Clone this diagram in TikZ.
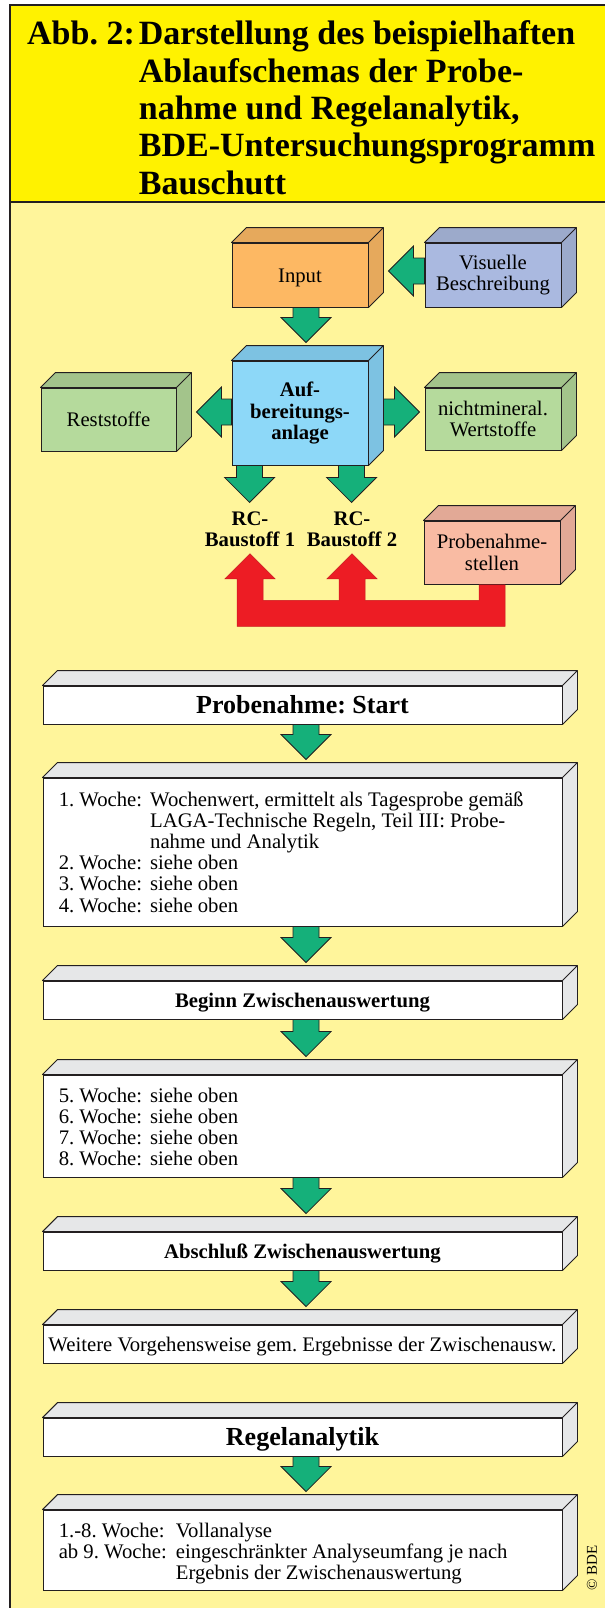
\documentclass[tikz,border=0pt]{standalone}
\usepackage{fontspec}
\setmainfont{Liberation Serif}
\usetikzlibrary{calc}
\definecolor{framecol}{HTML}{231F20}
\definecolor{titlebg}{HTML}{FFF200}
\definecolor{bodybg}{HTML}{FFF59B}
\definecolor{inputfront}{HTML}{FDB863}
\definecolor{inputside}{HTML}{E6A95C}
\definecolor{visfront}{HTML}{AAB9E0}
\definecolor{visside}{HTML}{9CAACB}
\definecolor{plantfront}{HTML}{8DD8F8}
\definecolor{plantside}{HTML}{7DC2E2}
\definecolor{greenfront}{HTML}{B5DA9C}
\definecolor{greenside}{HTML}{A3C48B}
\definecolor{probefront}{HTML}{F9BBA3}
\definecolor{probeside}{HTML}{E2A996}
\definecolor{stepside}{HTML}{E6E7E8}
\definecolor{arrowgreen}{HTML}{15B07A}
\definecolor{arrowred}{HTML}{ED1C24}

\newcommand{\boxfont}{\fontsize{20.7}{21.2}\selectfont}
\newcommand{\bigfont}{\fontsize{26}{28}\selectfont\bfseries}
\newcommand{\titlefont}{\fontsize{34}{37.3}\selectfont\bfseries}
\frenchspacing

% block arrow from #1 to the tip #2
\newcommand{\blockflow}[2]{%
  \coordinate (fa) at #1;
  \coordinate (fb) at #2;
  \coordinate (fh) at ($(fb)!25pt!(fa)$);
  \draw[flowfill] ($(fa)!13pt!90:(fb)$) -- ($(fh)!13pt!90:(fb)$) -- ($(fh)!25pt!90:(fb)$)
    -- (fb) -- ($(fh)!25pt!-90:(fb)$) -- ($(fh)!13pt!-90:(fb)$) -- ($(fa)!13pt!-90:(fb)$) -- cycle;}

\begin{document}
\begin{tikzpicture}[
    x=1pt, y=-1pt,
    cube/.style={draw=framecol, line width=0.9pt, inner sep=0pt, align=center, font=\boxfont},
    stepcell/.style={cube, fill=white, minimum width=519pt},
    lbl/.style={inner sep=0pt, align=center, font=\boxfont\bfseries},
    txt/.style={inner sep=0pt, font=\boxfont},
    sideface/.style={draw=framecol, line width=0.9pt, line join=round},
    flowfill/.style={draw=framecol, line width=0.8pt, fill=arrowgreen},
    redflow/.style={fill=arrowred, draw=arrowred!85!black, line width=0.5pt},
]
\useasboundingbox (0,0) rectangle (605,1608);

% ---- frame and title ----------------------------------------------------------
\fill[white] (0,0) rectangle (605,1608);
\fill[titlebg] (10,5) rectangle (605,202);
\fill[bodybg] (10,202) rectangle (605,1608);
\draw[framecol, line width=2.5pt] (10,1608) -- (10,5) -- (605,5);
\draw[framecol, line width=2pt] (10,202) -- (605,202);

\node[anchor=base west, inner sep=0pt, font=\titlefont] (title) at (27,45)
  {\begin{tabular}[t]{@{}l@{\hspace{4pt}}l@{}}
   Abb. 2: & Darstellung des beispielhaften\\
           & Ablaufschemas der Probe-\\
           & nahme und Regelanalytik,\\
           & BDE-Untersuchungsprogramm\\
           & Bauschutt
   \end{tabular}};

% ---- plant scheme ---------------------------------------------------------------
\node[cube, fill=inputfront, minimum width=136pt, minimum height=64pt,
      text height=14pt, text depth=0pt] (input) at (300,275) {Input};
\node[cube, fill=visfront, minimum width=136pt, minimum height=64pt] (visual) at (493,275) {Visuelle\\Beschreibung};
\node[cube, fill=plantfront, minimum width=136pt, minimum height=104pt,
      font=\boxfont\bfseries] (plant) at (300,413) {Auf-\\bereitungs-\\anlage};
\node[cube, fill=greenfront, minimum width=135pt, minimum height=63pt,
      text height=14pt, text depth=0pt] (rest) at (108.5,419.5) {Reststoffe};
\node[cube, fill=greenfront, minimum width=136pt, minimum height=62pt] (valuable) at (493,419) {nichtmineral.\\Wertstoffe};
\node[cube, fill=probefront, minimum width=136pt, minimum height=63pt] (probe) at (492,552.5) {Probenahme-\\stellen};

\node[lbl] (rc1) at (250,529) {RC-\\Baustoff 1};
\node[lbl] (rc2) at (352,529) {RC-\\Baustoff 2};

% ---- sampling steps ---------------------------------------------------------------
\node[stepcell, minimum height=38pt, font=\bigfont, text height=17pt, text depth=0pt] (start) at (302.5,705) {Probenahme: Start};
\node[stepcell, minimum height=148pt] (week1) at (302.5,852) {};
\node[stepcell, minimum height=38pt, font=\boxfont\bfseries, text height=14pt, text depth=0pt] (beginn) at (302.5,1000) {Beginn Zwischenauswertung};
\node[stepcell, minimum height=102pt] (week2) at (302.5,1126) {};
\node[stepcell, minimum height=38pt, font=\boxfont\bfseries, text height=14pt, text depth=0pt] (closing) at (302.5,1251) {Abschluß Zwischenauswertung};
\node[stepcell, minimum height=38pt, text height=14pt, text depth=0pt] (further) at (302.5,1344) {Weitere Vorgehensweise gem. Ergebnisse der Zwischenausw.};
\node[stepcell, minimum height=38pt, font=\bigfont, text height=17pt, text depth=0pt] (routine) at (302.5,1437) {Regelanalytik};
\node[stepcell, minimum height=80pt] (analysis) at (302.5,1550) {};

\node[txt, anchor=west] (week1txt) at ($(week1.west)+(16,2.8)$)
  {\begin{tabular}{@{}l@{\hspace{8pt}}l@{}}
   1. Woche: & Wochenwert, ermittelt als Tagesprobe gemäß\\
             & LAGA-Technische Regeln, Teil III: Probe-\\
             & nahme und Analytik\\
   2. Woche: & siehe oben\\
   3. Woche: & siehe oben\\
   4. Woche: & siehe oben
   \end{tabular}};
\node[txt, anchor=west] (week2txt) at ($(week2.west)+(16,3.6)$)
  {\begin{tabular}{@{}l@{\hspace{8pt}}l@{}}
   5. Woche: & siehe oben\\
   6. Woche: & siehe oben\\
   7. Woche: & siehe oben\\
   8. Woche: & siehe oben
   \end{tabular}};
\node[txt, anchor=west] (analysistxt) at ($(analysis.west)+(16,4)$)
  {\begin{tabular}{@{}l@{\hspace{9pt}}l@{}}
   1.-8. Woche: & Vollanalyse\\
   ab 9. Woche: & eingeschränkter Analyseumfang je nach\\
                & Ergebnis der Zwischenauswertung
   \end{tabular}};

\node[font=\fontsize{15}{16}\selectfont, rotate=90, inner sep=0pt] (copy) at (592,1568) {© BDE};

% ---- top and side faces -----------------------------------------------------------
\foreach \n/\c in {input/inputside, visual/visside, plant/plantside, rest/greenside,
                   valuable/greenside, probe/probeside, start/stepside, week1/stepside,
                   beginn/stepside, week2/stepside, closing/stepside, further/stepside,
                   routine/stepside, analysis/stepside} {
  \draw[sideface, fill=\c] (\n.north west) -- ++(15,-15) -- ([shift={(15,-15)}]\n.north east)
    -- ([shift={(15,-15)}]\n.south east) -- (\n.south east) -- (\n.north east) -- cycle
    (\n.north east) -- ++(15,-15);
}

% ---- green flow arrows ------------------------------------------------------------
\blockflow{($(visual.west)+(0,-4)$)}{($(input.east)+(20,-4)$)}
\blockflow{($(input.south)+(6,0)$)}{($(plant.north)+(6,-18)$)}
\blockflow{($(plant.west)+(0,-1)$)}{($(rest.east)+(20,-7.5)$)}
\blockflow{($(plant.east)+(15,-1)$)}{($(valuable.west)+(-5,-7)$)}
\blockflow{($(plant.south west)+(18,0)$)}{($(plant.south west)+(18,37)$)}
\blockflow{($(plant.south west)+(120,0)$)}{($(plant.south west)+(120,37)$)}

\blockflow{($(start.south)+(3.5,0)$)}{($(week1.north)+(3.5,-18)$)}
\blockflow{($(week1.south)+(3.5,0)$)}{($(beginn.north)+(3.5,-18)$)}
\blockflow{($(beginn.south)+(3.5,0)$)}{($(week2.north)+(3.5,-18)$)}
\blockflow{($(week2.south)+(3.5,0)$)}{($(closing.north)+(3.5,-18)$)}
\blockflow{($(closing.south)+(3.5,0)$)}{($(further.north)+(3.5,-18)$)}
\blockflow{($(routine.south)+(3.5,0)$)}{($(analysis.north)+(3.5,-18)$)}

% ---- red sampling connector (Probenahmestellen -> RC-Baustoffe) ---------------------
\coordinate (up1) at ($(rc1.south)+(0,7)$);
\coordinate (up2) at ($(rc2.south)+(0,7)$);
\coordinate (redhead) at ($(up1)+(0,25)$);
\coordinate (redhigh) at ($(probe.south)+(0,16)$);
\coordinate (redlow) at ($(probe.south)+(0,42)$);
\path ($(probe.south)+(-13,0.5)$) coordinate (pl) ($(probe.south)+(13,0.5)$) coordinate (pr)
      ($(up1)+(-13,0)$) coordinate (a1l) ($(up1)+(13,0)$) coordinate (a1r)
      ($(up1)+(-25,0)$) coordinate (h1l) ($(up1)+(25,0)$) coordinate (h1r)
      ($(up2)+(-13,0)$) coordinate (a2l) ($(up2)+(13,0)$) coordinate (a2r)
      ($(up2)+(-25,0)$) coordinate (h2l) ($(up2)+(25,0)$) coordinate (h2r);
\draw[redflow] (pr) -- (pr |- redlow) -- (a1l |- redlow) -- (a1l |- redhead) -- (h1l |- redhead)
  -- (up1) -- (h1r |- redhead) -- (a1r |- redhead) -- (a1r |- redhigh) -- (a2l |- redhigh)
  -- (a2l |- redhead) -- (h2l |- redhead) -- (up2) -- (h2r |- redhead) -- (a2r |- redhead)
  -- (a2r |- redhigh) -- (pl |- redhigh) -- (pl) -- cycle;

\end{tikzpicture}
\end{document}
